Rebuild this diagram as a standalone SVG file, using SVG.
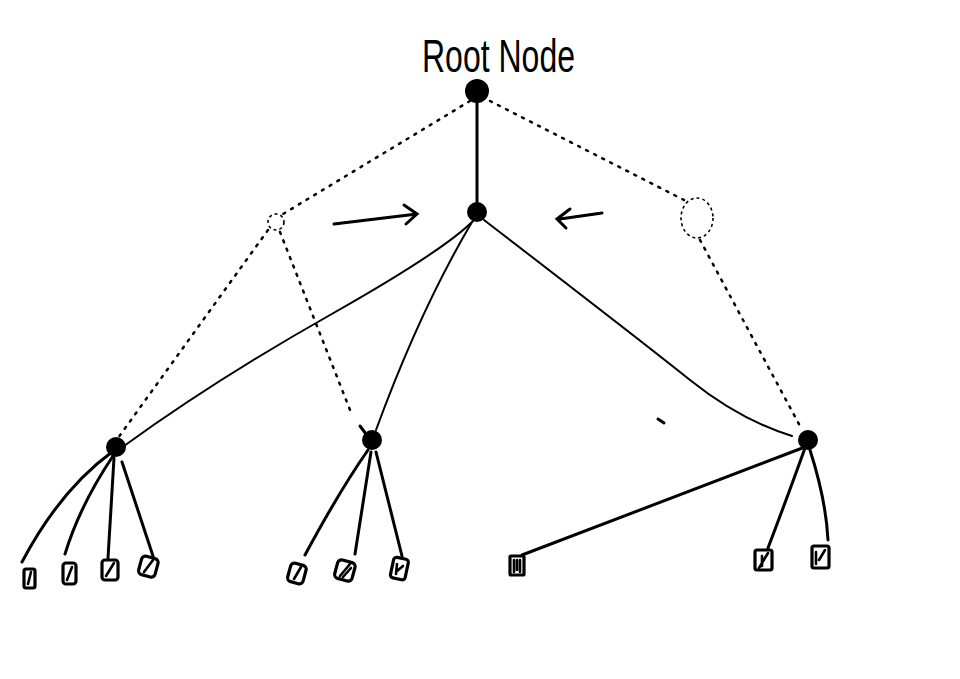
<svg xmlns="http://www.w3.org/2000/svg" width="960" height="679" viewBox="0 0 960 679">
<style>
.solid{fill:none;stroke:#000;stroke-width:2;stroke-linecap:round}
.thick{fill:none;stroke:#000;stroke-width:3;stroke-linecap:round}
.dot{fill:none;stroke:#000;stroke-width:2.5;stroke-dasharray:2 7;stroke-linecap:round}
.node{fill:#000}
.leaf{fill:#fff;stroke:#000;stroke-width:3.2}
.scr{stroke:#000;stroke-width:2.6;fill:none;stroke-linecap:round}
.ghost{fill:none;stroke:#000;stroke-width:1.6;stroke-dasharray:3 3}
</style>
<rect width="960" height="679" fill="#fff"/>
<text x="422" y="72" font-family="Liberation Sans, sans-serif" font-size="46" textLength="153" lengthAdjust="spacingAndGlyphs">Root Node</text>
<g id="connectors">
<line class="thick" x1="477" y1="100" x2="477" y2="204"/>
<path class="solid" d="M474 220 Q445 250 330 315 T124 446"/>
<path class="solid" d="M472 222 Q420 310 376 430"/>
<path class="solid" d="M484 220 Q640 340 690 380 T792 436"/>
<path class="dot" d="M470 101 L283 214"/>
<path class="dot" d="M490 101 L684 200"/>
<path class="dot" d="M268 230 L118 438"/>
<path class="dot" d="M280 232 L352 415"/>
<path class="thick" d="M360 426 L366 434"/>
<path class="dot" d="M700 240 L800 426"/>
<path class="thick" d="M658 419 L664 423"/>
<path class="thick" d="M334 224 L417 214 M404 205 L417 214 L406 224"/>
<path class="thick" d="M602 213 L560 219 M570 209 L557 219 L566 228"/>
<path class="thick" d="M112 452 Q60 490 22 562"/>
<path class="thick" d="M113 456 Q80 505 65 554"/>
<path class="thick" d="M114 458 L108 558"/>
<path class="thick" d="M122 462 L153 556"/>
<path class="thick" d="M368 450 Q340 490 305 555"/>
<path class="thick" d="M371 452 L355 554"/>
<path class="thick" d="M376 452 L402 556"/>
<path class="thick" d="M522 555 L805 447"/>
<path class="thick" d="M805 448 Q790 490 768 548"/>
<path class="thick" d="M810 450 Q826 500 828 540"/>
</g>
<g id="root"><circle class="node" cx="477" cy="91" r="12"/></g>
<g id="mid"><circle class="node" cx="477" cy="212" r="10"/></g>
<g id="ghost-left"><circle class="ghost" cx="276" cy="222" r="8"/></g>
<g id="ghost-right"><ellipse class="ghost" cx="697" cy="218" rx="16" ry="20"/></g>
<g id="n-left"><circle class="node" cx="116" cy="447" r="10"/></g>
<g id="n-middle"><circle class="node" cx="372" cy="440" r="10"/></g>
<g id="n-right"><circle class="node" cx="808" cy="440" r="10"/></g>
<g id="leaf1"><rect class="leaf" x="24" y="569" width="11" height="19" rx="2"/><line class="scr" x1="28" y1="584" x2="31" y2="572"/></g>
<g id="leaf2"><rect class="leaf" x="63" y="563" width="13" height="21" rx="3"/><line class="scr" x1="67" y1="580" x2="72" y2="567"/></g>
<g id="leaf3"><rect class="leaf" x="102" y="560" width="16" height="20" rx="3"/><line class="scr" x1="106" y1="576" x2="114" y2="563"/></g>
<g id="leaf4"><rect class="leaf" x="140" y="557" width="17" height="19" rx="4" transform="rotate(15 148 566)"/><line class="scr" x1="144" y1="572" x2="153" y2="560"/></g>
<g id="leaf5"><rect class="leaf" x="289" y="564" width="16" height="19" rx="4" transform="rotate(15 297 573)"/><line class="scr" x1="294" y1="579" x2="301" y2="567"/></g>
<g id="leaf6"><rect class="leaf" x="336" y="561" width="18" height="19" rx="4" transform="rotate(15 345 570)"/><path class="scr" d="M340 576 L350 564 M343 577 L351 568"/></g>
<g id="leaf7"><rect class="leaf" x="392" y="558" width="15" height="21" rx="3" transform="rotate(12 399 568)"/><path class="scr" d="M396 574 L397 564 M397 571 L403 566"/></g>
<g id="leaf8"><rect class="leaf" x="510" y="556" width="14" height="19" rx="1"/><path class="scr" d="M514 560 L514 572 M517 560 L517 570 M520 560 L520 572"/></g>
<g id="leaf9"><rect class="leaf" x="755" y="550" width="17" height="20" rx="2"/><path class="scr" d="M759 568 L768 553 M762 556 L762 566"/></g>
<g id="leaf10"><rect class="leaf" x="812" y="546" width="17" height="22" rx="2"/><path class="scr" d="M816 552 L816 564 M819 560 L825 550"/></g>
</svg>
